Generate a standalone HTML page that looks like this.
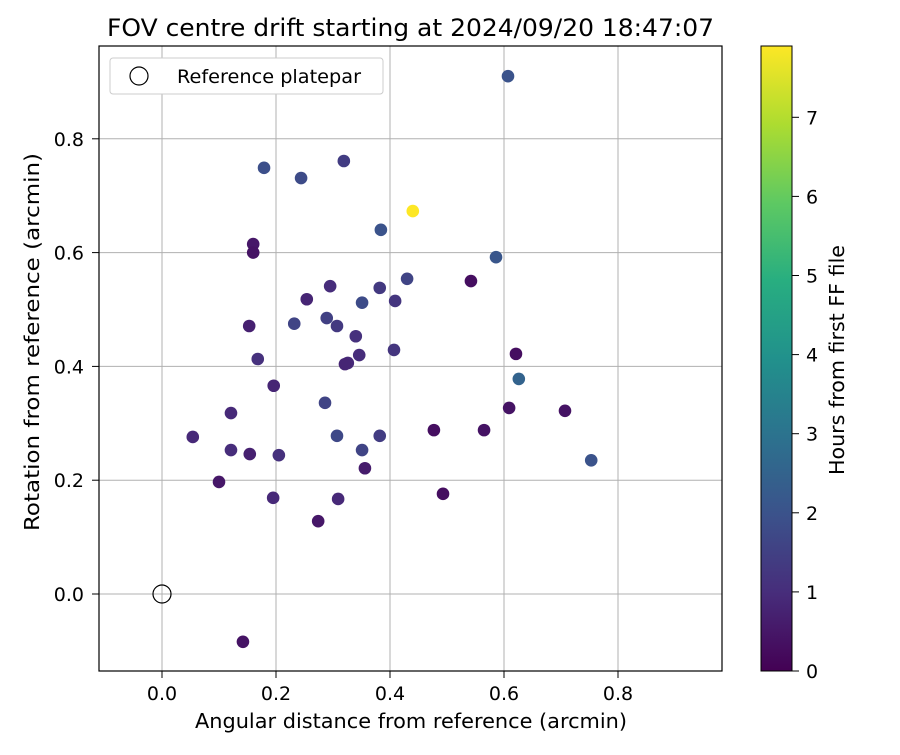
<!DOCTYPE html>
<html><head><meta charset="utf-8">
<style>
body{margin:0;background:#fff;font-family:"Liberation Sans","DejaVu Sans",sans-serif;}
svg text{font-family:"DejaVu Sans","Liberation Sans",sans-serif;}
</style></head>
<body>
<svg id="chart" width="900" height="750" xmlns="http://www.w3.org/2000/svg">
<defs>
<linearGradient id="vir" x1="0" y1="1" x2="0" y2="0">
<stop offset="0" stop-color="#440154"/><stop offset="0.125" stop-color="#472d7b"/><stop offset="0.25" stop-color="#3b528b"/><stop offset="0.375" stop-color="#2c728e"/><stop offset="0.5" stop-color="#21918c"/><stop offset="0.625" stop-color="#28ae80"/><stop offset="0.75" stop-color="#5ec962"/><stop offset="0.875" stop-color="#addc30"/><stop offset="1" stop-color="#fde725"/>
</linearGradient>
</defs>
<text x="107" y="36" font-size="24" textLength="607" lengthAdjust="spacingAndGlyphs">FOV centre drift starting at 2024/09/20 18:47:07</text>
<g id="grid"></g>
<g id="points"></g>
<rect x="99" y="46" width="623" height="625" fill="none" stroke="#000" stroke-width="1.2"/>
<g id="ticks"></g>
<text x="195" y="728" font-size="20" textLength="432" lengthAdjust="spacingAndGlyphs">Angular distance from reference (arcmin)</text>
<text transform="translate(39,531) rotate(-90)" font-size="20" textLength="378" lengthAdjust="spacingAndGlyphs">Rotation from reference (arcmin)</text>
<g>
<rect x="110" y="58" width="273" height="36" rx="3" fill="#fff" stroke="#ccc"/>
<circle cx="139" cy="76" r="9" fill="none" stroke="#000" stroke-width="1.2"/>
<text x="177" y="83" font-size="19" textLength="184" lengthAdjust="spacingAndGlyphs">Reference platepar</text>
</g>
<rect x="761" y="46" width="31" height="625" fill="url(#vir)" stroke="#000" stroke-width="1"/>
<g id="cbticks"></g>
<text transform="translate(844,475) rotate(-90)" font-size="20" textLength="230" lengthAdjust="spacingAndGlyphs">Hours from first FF file</text>
</svg>
<script>
const xs=[0.607,0.179,0.244,0.319,0.440,0.384,0.160,0.160,0.586,0.430,0.542,0.382,0.295,0.254,0.351,0.409,0.153,0.232,0.289,0.307,0.340,0.168,0.346,0.326,0.321,0.407,0.621,0.626,0.196,0.286,0.121,0.609,0.707,0.054,0.307,0.382,0.477,0.565,0.121,0.154,0.205,0.351,0.753,0.356,0.100,0.493,0.195,0.309,0.274,0.142];
const ys=[0.910,0.749,0.731,0.761,0.673,0.640,0.615,0.600,0.592,0.554,0.550,0.538,0.541,0.518,0.512,0.515,0.471,0.475,0.485,0.471,0.453,0.413,0.420,0.406,0.404,0.429,0.422,0.378,0.366,0.336,0.318,0.327,0.322,0.276,0.278,0.278,0.288,0.288,0.253,0.246,0.244,0.253,0.235,0.221,0.197,0.176,0.169,0.167,0.128,-0.084];
const hours=[2.0,1.9,1.8,1.4,7.9,2.0,0.5,0.4,2.1,1.6,0.3,1.3,1.0,0.8,1.8,1.2,0.7,1.6,1.5,1.3,1.1,1.1,1.0,0.9,0.8,1.2,0.3,2.5,0.8,1.6,0.9,0.4,0.4,0.9,1.7,1.4,0.3,0.4,1.0,0.7,1.1,1.6,2.0,0.6,0.5,0.3,0.9,0.9,0.5,0.4];
const xTicks=[0.0,0.2,0.4,0.6,0.8];
const yTicks=[0.0,0.2,0.4,0.6,0.8];
const cTicks=[0,1,2,3,4,5,6,7];
const NS="http://www.w3.org/2000/svg";
const X=v=>162+v*570, Y=v=>594-v*569, C=h=>671-h*79.1;
const vir=[[68,1,84],[71,45,123],[59,82,139],[44,114,142],[33,145,140],[40,174,128],[94,201,98],[173,220,48],[253,231,37]];
function col(h){let t=Math.max(0,Math.min(1,h/7.9))*8,i=Math.min(7,Math.floor(t)),f=t-i;const a=vir[i],b=vir[i+1];return `rgb(${a.map((v,k)=>Math.round(v+(b[k]-v)*f)).join(',')})`;}
function mk(tag,at,parent){const e=document.createElementNS(NS,tag);for(const k in at)e.setAttribute(k,at[k]);document.getElementById(parent).appendChild(e);return e;}
xTicks.forEach(v=>{
 const g=mk('line',{x1:X(v),x2:X(v),y1:46,y2:671,stroke:'#b0b0b0','stroke-width':1},'grid');
 
 
 const t=mk('line',{x1:X(v),x2:X(v),y1:671,y2:678,stroke:'#000'},'ticks');
 
 
 const l=mk('text',{x:X(v),y:700,'font-size':19,'text-anchor':'middle'},'ticks');l.textContent=v.toFixed(1);
 
 
});
yTicks.forEach(v=>{
 const g=mk('line',{x1:99,x2:722,y1:Y(v),y2:Y(v),stroke:'#b0b0b0','stroke-width':1},'grid');
 
 
 const t=mk('line',{x1:92,x2:99,y1:Y(v),y2:Y(v),stroke:'#000'},'ticks');
 
 
 const l=mk('text',{x:84,y:Y(v)+7,'font-size':19,'text-anchor':'end'},'ticks');l.textContent=v.toFixed(1);
 
 
});
cTicks.forEach(v=>{
 const t=mk('line',{x1:792,x2:799,y1:C(v),y2:C(v),stroke:'#000'},'cbticks');
 
 
 const l=mk('text',{x:806,y:C(v)+7,'font-size':19},'cbticks');l.textContent=v;
 
 
});
const ref=mk('circle',{cx:X(0),cy:Y(0),r:9,fill:'none',stroke:'#000','stroke-width':1.2},'points');


xs.forEach((x,i)=>{
 const p=mk('circle',{cx:X(x),cy:Y(ys[i]),r:6.3,fill:col(hours[i])},'points');
 
 
});
</script>
</body></html>
